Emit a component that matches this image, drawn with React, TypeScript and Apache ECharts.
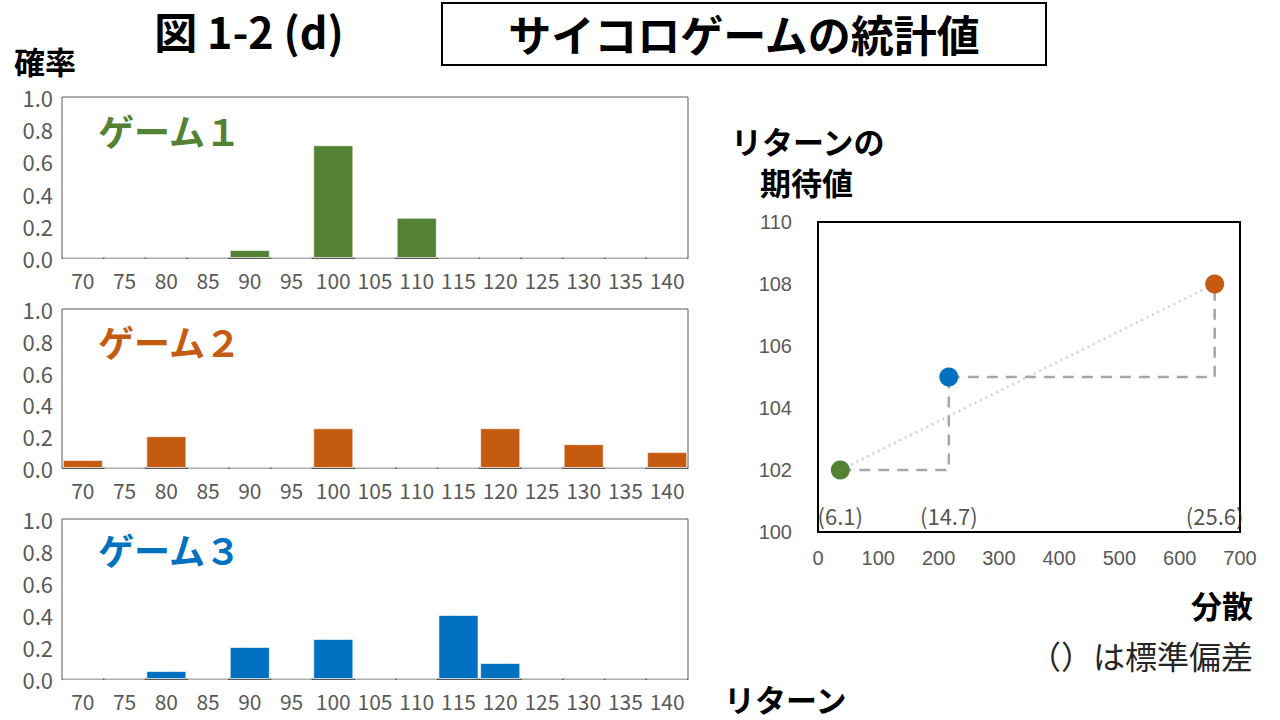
import React, { useEffect, useRef } from "react";
import * as echarts from "echarts";

const returns = ["70", "75", "80", "85", "90", "95", "100", "105", "110", "115", "120", "125", "130", "135", "140"];
const game1 = [0, 0, 0, 0, 0.05, 0, 0.7, 0, 0.25, 0, 0, 0, 0, 0, 0];
const game2 = [0.05, 0, 0.2, 0, 0, 0, 0.25, 0, 0, 0, 0.25, 0, 0.15, 0, 0.1];
const game3 = [0, 0, 0.05, 0, 0.2, 0, 0.25, 0, 0, 0.4, 0.1, 0, 0, 0, 0];
const gameNames = ["ゲーム１", "ゲーム２", "ゲーム３"];
const gameColors = ["#548235", "#C55A11", "#0070C0"];
// per game: 1, 2, 3
const variances = [37, 658, 217];
const expected = [102, 108, 105];
const sdLabels = ["(6.1)", "(25.6)", "(14.7)"];

const JP = "'Noto Sans CJK JP', 'Noto Sans', sans-serif";
const AR = "'Liberation Sans', Arial, sans-serif";

export default function App() {
  const ref = useRef<HTMLDivElement>(null);
  useEffect(() => {
    if (!ref.current) return;
    const chart = echarts.init(ref.current, null, { renderer: "svg" });
    const games = [game1, game2, game3];
    const grids = [
      { left: 62, top: 97, width: 626, height: 161 },
      { left: 62, top: 309, width: 626, height: 159 },
      { left: 62, top: 519, width: 626, height: 160 },
    ];
    const grid: any[] = grids.map((g) => ({
      ...g,
      show: true,
      borderColor: "#595959",
      borderWidth: 1,
      backgroundColor: "transparent",
    }));
    grid.push({ left: 818, top: 222, width: 422, height: 310, show: true, borderColor: "#000", borderWidth: 2 });

    const xAxis: any[] = grids.map((_, i) => ({
      type: "category",
      gridIndex: i,
      data: returns,
      axisLine: { show: true, lineStyle: { color: "#595959" } },
      axisTick: { show: false },
      axisLabel: { color: "#595959", fontSize: 21, fontFamily: JP, margin: 11, interval: 0, hideOverlap: false },
    }));
    xAxis.push({
      type: "value",
      gridIndex: 3,
      min: 0,
      max: 700,
      interval: 100,
      splitLine: { show: false },
      axisLine: { show: false },
      axisTick: { show: false },
      axisLabel: { color: "#595959", fontSize: 20, fontFamily: AR, margin: 16 },
    });
    const yAxis: any[] = grids.map((_, i) => ({
      type: "value",
      gridIndex: i,
      min: 0,
      max: 1,
      interval: 0.2,
      splitLine: { show: false },
      axisLine: { show: false },
      axisTick: { show: false },
      axisLabel: { color: "#595959", fontSize: 22, fontFamily: JP, margin: 9, formatter: (v: number) => v.toFixed(1) },
    }));
    yAxis.push({
      type: "value",
      gridIndex: 3,
      min: 100,
      max: 110,
      interval: 2,
      splitLine: { show: false },
      axisLine: { show: false },
      axisTick: { show: false },
      axisLabel: { color: "#595959", fontSize: 20, fontFamily: AR, margin: 26 },
    });

    const series: any[] = games.map((d, i) => ({
      type: "bar",
      xAxisIndex: i,
      yAxisIndex: i,
      data: d,
      barCategoryGap: "4%",
      itemStyle: { color: gameColors[i], borderColor: "rgba(255,255,255,0.6)", borderWidth: 1 },
    }));
    const pts = variances.map((v, i) => [v, expected[i]]);
    // dotted trend from game 1 to game 2
    series.push({
      type: "line",
      xAxisIndex: 3,
      yAxisIndex: 3,
      data: [pts[0], pts[1]],
      symbol: "none",
      lineStyle: { color: "#D0D0D0", width: 2.5, type: [2, 4] },
      z: 1,
    });
    // game1 -> game3 step
    series.push({
      type: "line",
      xAxisIndex: 3,
      yAxisIndex: 3,
      data: [pts[0], [variances[2], expected[0]], pts[2]],
      symbol: "none",
      lineStyle: { color: "#A6A6A6", width: 2.5, type: [11, 8] },
      z: 2,
    });
    // game3 -> game2 step
    series.push({
      type: "line",
      xAxisIndex: 3,
      yAxisIndex: 3,
      data: [pts[2], [variances[1], expected[2]], pts[1]],
      symbol: "none",
      lineStyle: { color: "#A6A6A6", width: 2.5, type: [11, 8] },
      z: 2,
    });
    series.push({
      type: "scatter",
      xAxisIndex: 3,
      yAxisIndex: 3,
      symbolSize: 19,
      data: pts.map((p, i) => ({ value: p, itemStyle: { color: gameColors[i], opacity: 1 } })),
      z: 5,
    });
    series.push({
      type: "scatter",
      xAxisIndex: 3,
      yAxisIndex: 3,
      symbolSize: 0,
      data: variances.map((v, i) => ({ value: [v, 100.55], name: sdLabels[i] })),
      label: {
        show: true,
        position: "inside",
        formatter: (p: any) => p.name,
        color: "#262626",
        fontSize: 22,
        fontFamily: JP,
      },
      z: 6,
    });

    const t = (text: string, x: number, y: number, size: number, opts: any = {}) => ({
      type: "text",
      x,
      y,
      style: {
        text,
        fontSize: size,
        fontFamily: JP,
        fontWeight: "bold",
        fill: "#000",
        textAlign: "left",
        textVerticalAlign: "middle",
        ...opts,
      },
    });

    const graphic: any[] = [
      t("図 1-2 (d)", 249, 30, 43, { textAlign: "center" }),
      {
        type: "rect",
        shape: { x: 442, y: 3, width: 604, height: 62 },
        style: { fill: "none", stroke: "#000", lineWidth: 2 },
      },
      t("サイコロゲームの統計値", 744, 33, 43, { textAlign: "center" }),
      t("確率", 14, 60, 31),
      t(gameNames[0], 98, 130, 36, { fill: gameColors[0] }),
      t(gameNames[1], 98, 341, 36, { fill: gameColors[1] }),
      t(gameNames[2], 98, 549, 36, { fill: gameColors[2] }),
      t("リターンの", 731, 140, 31),
      t("期待値", 760, 181, 31),
      t("分散", 1253, 604, 31, { textAlign: "right" }),
      t("（）は標準偏差", 1253, 655, 32, { textAlign: "right", fontWeight: "normal", fill: "#262626" }),
      t("リターン", 724, 698, 31),
    ];

    chart.setOption({
      animation: false,
      grid,
      xAxis,
      yAxis,
      series,
      graphic,
    });
    return () => chart.dispose();
  }, []);
  return (
    <div
      ref={ref}
      style={{ position: "fixed", left: 0, top: 0, width: 1280, height: 720, background: "#fff" }}
    />
  );
}
